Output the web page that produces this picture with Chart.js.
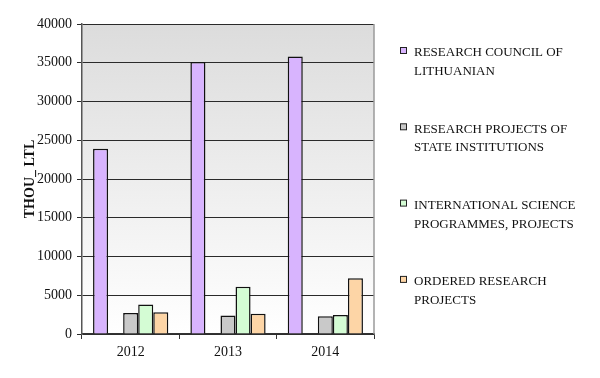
<!DOCTYPE html>
<html>
<head>
<meta charset="utf-8">
<script src="https://cdn.jsdelivr.net/npm/chart.js@4"></script>
<style>
html,body{margin:0;padding:0;background:#fff;}
#wrap{width:600px;height:378px;position:relative;}
</style>
</head>
<body>
<div id="wrap"><canvas id="c" width="600" height="378"></canvas></div>
<script>
const categories = ['2012', '2013', '2014'];
const researchCouncil = [23900, 35100, 35800];
const gapSeries = [null, null, null];
const stateProjects = [2700, 2400, 2300];
const internationalProgrammes = [3800, 6100, 2450];
const orderedResearch = [2800, 2600, 7200];
const yTicks = [0, 5000, 10000, 15000, 20000, 25000, 30000, 35000, 40000];

const legendLines = [
  ['RESEARCH COUNCIL OF', 'LITHUANIAN'],
  null,
  ['RESEARCH PROJECTS OF', 'STATE INSTITUTIONS'],
  ['INTERNATIONAL SCIENCE', 'PROGRAMMES, PROJECTS'],
  ['ORDERED RESEARCH', 'PROJECTS']
];
const seriesColors = ['#d8b4fe', 'rgba(0,0,0,0)', '#c9c9c9', '#d4fcd4', '#fdd5a6'];

const bgPlugin = {
  id: 'bg',
  beforeDraw(chart) {
    const {ctx, chartArea: a} = chart;
    const g = ctx.createLinearGradient(0, a.top, 0, a.bottom);
    g.addColorStop(0, '#dcdcdc');
    g.addColorStop(1, '#ffffff');
    ctx.save();
    ctx.fillStyle = g;
    ctx.fillRect(a.left, a.top, a.right - a.left, a.bottom - a.top);
    ctx.restore();
  },
  afterDraw(chart) {
    const {ctx, chartArea: a} = chart;
    ctx.save();
    ctx.strokeStyle = '#9a9a9a';
    ctx.lineWidth = 1.5;
    ctx.beginPath();
    ctx.moveTo(a.right, a.top);
    ctx.lineTo(a.right, a.bottom);
    ctx.stroke();
    // legend
    ctx.font = '13px "Liberation Serif"';
    ctx.textBaseline = 'middle';
    let idx = 0;
    chart.data.datasets.forEach((ds, i) => {
      const lines = legendLines[i];
      if (!lines) return;
      const y0 = 53 + idx * 76.3;
      ctx.fillStyle = ds.backgroundColor;
      ctx.fillRect(400.5, y0 - 5.5, 6, 6);
      ctx.strokeStyle = '#222';
      ctx.lineWidth = 1;
      ctx.strokeRect(400.5, y0 - 5.5, 6, 6);
      ctx.fillStyle = '#111';
      lines.forEach((t, k) => ctx.fillText(t, 414, y0 + k * 18.5));
      idx++;
    });
    ctx.restore();
  }
};

const mk = (label, data, i) => ({
  label: label,
  data: data,
  backgroundColor: seriesColors[i],
  borderColor: '#111',
  borderWidth: 1.5,
  borderSkipped: 'bottom'
});

new Chart(document.getElementById('c'), {
  type: 'bar',
  data: {
    labels: categories,
    datasets: [
      mk('RESEARCH COUNCIL OF LITHUANIAN', researchCouncil, 0),
      mk('', gapSeries, 1),
      mk('RESEARCH PROJECTS OF STATE INSTITUTIONS', stateProjects, 2),
      mk('INTERNATIONAL SCIENCE PROGRAMMES, PROJECTS', internationalProgrammes, 3),
      mk('ORDERED RESEARCH PROJECTS', orderedResearch, 4)
    ]
  },
  options: {
    responsive: false,
    animation: false,
    devicePixelRatio: 1,
    categoryPercentage: 0.773,
    barPercentage: 1,
    layout: {padding: {left: 0, right: 226, top: 24, bottom: 0}},
    plugins: {legend: {display: false}, tooltip: {enabled: false}},
    scales: {
      x: {
        grid: {display: true, drawOnChartArea: false, drawTicks: true, tickLength: 5, color: '#333', offset: true},
        border: {display: true, color: '#333', width: 1.5},
        ticks: {color: '#111', font: {family: 'Liberation Serif', size: 14}, padding: 5},
        afterFit(s) { s.height = 44; }
      },
      y: {
        min: 0, max: 40000,
        afterBuildTicks(s) { s.ticks = yTicks.map(v => ({value: v})); },
        grid: {color: '#2a2a2a', lineWidth: 1, tickLength: 5},
        border: {display: true, color: '#555', width: 1.5},
        ticks: {color: '#111', font: {family: 'Liberation Serif', size: 14}, padding: 5, callback: v => String(v)},
        title: {display: true, text: 'THOU_ LTL', color: '#111', font: {family: 'Liberation Serif', size: 14, weight: 'bold'}, padding: {top: 22, bottom: 0}},
        afterFit(s) { s.width = 82; }
      }
    }
  },
  plugins: [bgPlugin]
});
</script>
</body>
</html>
